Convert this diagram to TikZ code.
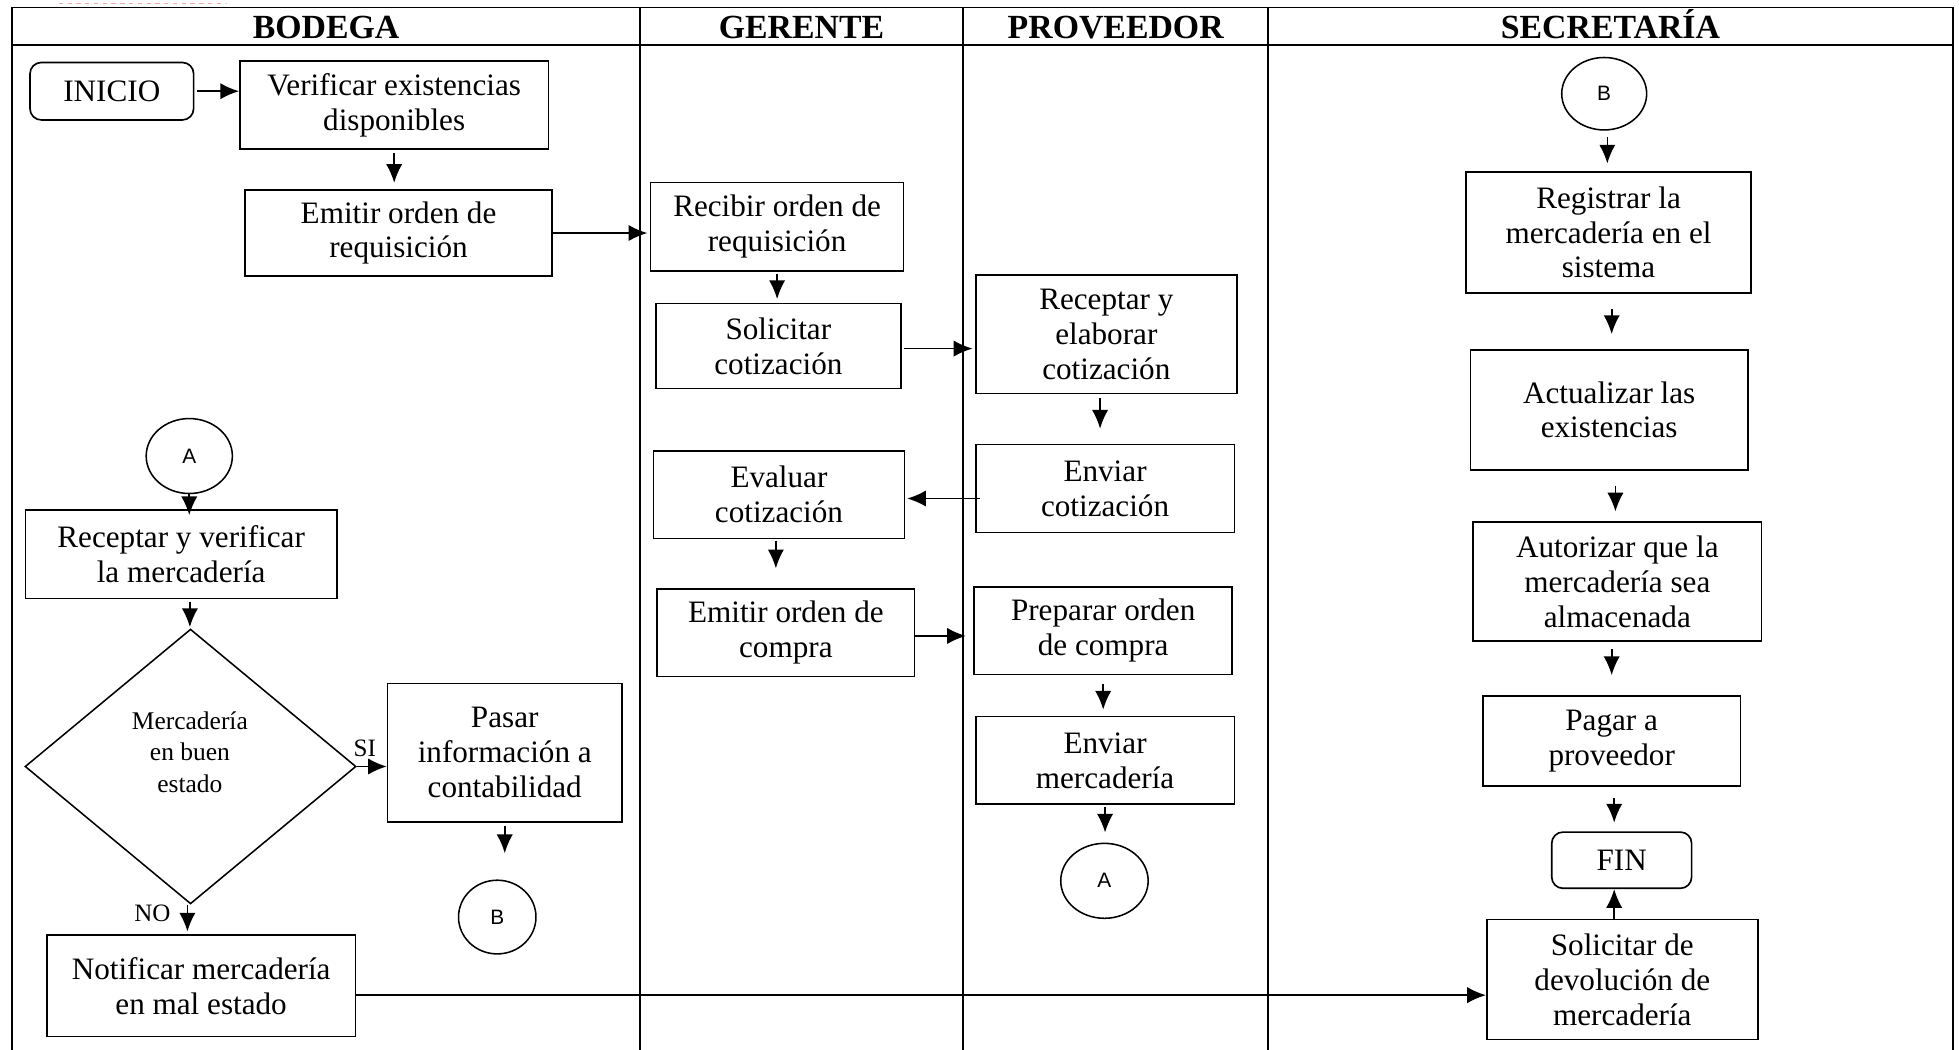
\documentclass[tikz,border=0pt]{standalone}
\usepackage{fontspec}
\setmainfont{Liberation Serif}
\newfontfamily\connfont{Liberation Sans}
\usetikzlibrary{shapes.geometric,arrows.meta}
\begin{document}
\begin{tikzpicture}[x=0.02cm,y=-0.02cm,
  every node/.style={font=\rmfamily\fontsize{14.2}{15.9}\selectfont, inner sep=0pt},
  lane/.style={line width=0.8pt},
  hdr/.style={anchor=base, font=\rmfamily\bfseries\fontsize{15.4}{18}\selectfont},
  box/.style={draw, line width=0.75pt, align=center},
  term/.style={box, rounded corners=0.18cm},
  conn/.style={draw, ellipse, line width=0.7pt, font=\connfont\fontsize{9.5}{11}\selectfont},
  decision/.style={draw, diamond, line width=0.7pt},
  small/.style={font=\rmfamily\fontsize{11.4}{13}\selectfont},
  arr/.style={line width=0.75pt, -{Latex[length=0.3cm,width=0.26cm]}}]

\useasboundingbox (0,0) rectangle (1568,840);

% swimlane frame
\draw[lane] (9.5,845) -- (9.5,6) -- (1563,6) -- (1563,845);
\draw[lane] (9.5,36) -- (1563,36);
\draw[lane] (512,6) -- (512,845);
\draw[lane] (771,6) -- (771,845);
\draw[lane] (1015,6) -- (1015,845);
\draw[line width=0.4pt, color={rgb,255:red,245;green,170;blue,170}, dash pattern=on 2pt off 2pt] (47,2.5) -- (182,2.5);

\node[hdr] (hbod) at (261,30.5) {BODEGA};
\node[hdr] (hger) at (641.5,30.5) {GERENTE};
\node[hdr] (hpro) at (893,30.5) {PROVEEDOR};
\node[hdr] (hsec) at (1289,30.5) {SECRETARÍA};

% BODEGA
\node[term, minimum width=2.62cm, minimum height=0.92cm] (inicio) at (89.5,73) {INICIO};
\node[box, minimum width=4.94cm, minimum height=1.40cm] (verif) at (315.5,84) {Verificar existencias\\disponibles};
\node[box, minimum width=4.92cm, minimum height=1.38cm] (emitreq) at (319,186.5) {Emitir orden de\\requisición};
\node[conn, minimum width=1.38cm, minimum height=1.20cm] (ca1) at (151.5,365) {A};
\node[box, minimum width=4.98cm, minimum height=1.42cm] (recv) at (145,443.5) {Receptar y verificar\\la mercadería};
\node[decision, minimum width=5.3cm, minimum height=4.4cm] (dec) at (152.5,613.5) {};
\node[align=center, font=\rmfamily\fontsize{11.6}{14.2}\selectfont] (dectext) at (152,602) {Mercadería\\en buen\\estado};
\node[box, minimum width=3.75cm, minimum height=2.22cm] (pasar) at (404,602.5) {Pasar\\información a\\contabilidad};
\node[conn, minimum width=1.24cm, minimum height=1.18cm] (cb1) at (398,734) {B};
\node[box, minimum width=4.94cm, minimum height=1.63cm] (notif) at (161,789) {Notificar mercadería\\en mal estado};
\node[small] (lsi) at (292,599) {SI};
\node[small] (lno) at (122,731) {NO};

% GERENTE
\node[box, minimum width=4.05cm, minimum height=1.42cm] (recibir) at (622,181.5) {Recibir orden de\\requisición};
\node[box, minimum width=3.92cm, minimum height=1.36cm] (solic) at (623,277) {Solicitar\\cotización};
\node[box, minimum width=4.02cm, minimum height=1.40cm] (evaluar) at (623.5,396) {Evaluar\\cotización};
\node[box, minimum width=4.12cm, minimum height=1.40cm] (emitcomp) at (629,506.5) {Emitir orden de\\compra};

% PROVEEDOR
\node[box, minimum width=4.18cm, minimum height=1.90cm] (recepelab) at (885.5,267.5) {Receptar y\\elaborar\\cotización};
\node[box, minimum width=4.14cm, minimum height=1.41cm] (enviarcot) at (884.5,391) {Enviar\\cotización};
\node[box, minimum width=4.13cm, minimum height=1.40cm] (preparar) at (883,505) {Preparar orden\\de compra};
\node[box, minimum width=4.14cm, minimum height=1.40cm] (enviarmerc) at (884.5,608.6) {Enviar\\mercadería};
\node[conn, minimum width=1.40cm, minimum height=1.20cm] (ca2) at (884,705) {A};

% SECRETARIA
\node[conn, minimum width=1.36cm, minimum height=1.16cm] (cb2) at (1284,75) {B};
\node[box, minimum width=4.56cm, minimum height=1.94cm] (registrar) at (1287.5,186) {Registrar la\\mercadería en el\\sistema};
\node[box, minimum width=4.44cm, minimum height=1.92cm] (actualizar) at (1288,328) {Actualizar las\\existencias};
\node[box, minimum width=4.62cm, minimum height=1.90cm] (autorizar) at (1294.5,465.5) {Autorizar que la\\mercadería sea\\almacenada};
\node[box, minimum width=4.12cm, minimum height=1.44cm] (pagar) at (1290,593) {Pagar a\\proveedor};
\node[term, minimum width=2.24cm, minimum height=0.90cm] (fin) at (1298,688.5) {FIN};
\node[box, minimum width=4.34cm, minimum height=1.92cm] (solicdev) at (1298.5,784) {Solicitar de\\devolución de\\mercadería};

% connectors
\draw[arr, shorten <=0.04cm] (inicio.east) -- (inicio.east -| verif.west);
\draw[arr, shorten <=0.06cm, shorten >=0.1cm] (verif.south) -- (verif.south |- emitreq.north);
\draw[arr, shorten >=0.04cm] (emitreq.east) -- (emitreq.east -| recibir.west);
\draw[arr, shorten <=0.04cm, shorten >=0.06cm] (recibir.south) -- (recibir.south |- solic.north);
\draw[arr, shorten <=0.04cm, shorten >=0.04cm] ([yshift=-0.04cm]solic.east) -- ([yshift=-0.04cm]solic.east -| recepelab.west);
\draw[arr, shorten <=0.06cm, shorten >=0.24cm] ([xshift=-0.1cm]recepelab.south) -- ([xshift=-0.1cm]recepelab.south |- enviarcot.north);
\draw[arr, shorten <=-0.08cm, shorten >=0.03cm] ([yshift=-0.16cm]enviarcot.west) -- ([yshift=-0.16cm]enviarcot.west -| evaluar.east);
\draw[arr, shorten <=0.02cm, shorten >=0.32cm] ([xshift=-0.05cm]evaluar.south) -- ([xshift=-0.05cm]evaluar.south |- emitcomp.north);
\draw[arr, shorten >=0.12cm] ([yshift=-0.05cm]emitcomp.east) -- ([yshift=-0.05cm]emitcomp.east -| preparar.west);
\draw[arr, shorten <=0.14cm, shorten >=0.1cm] (preparar.south) -- (preparar.south |- enviarmerc.north);
\draw[arr, shorten <=0.04cm, shorten >=0.16cm] (enviarmerc.south) -- (enviarmerc.south |- ca2.north);
\draw[arr, shorten >=-0.1cm] (ca1.south) -- (ca1.south |- recv.north);
\draw[arr, shorten <=0.04cm, shorten >=0.02cm] ([xshift=0.14cm]recv.south) -- ([xshift=0.14cm]recv.south |- dec.north);
\draw[arr] (dec.east) -- (dec.east -| pasar.west);
\draw[arr, shorten <=0.05cm, shorten >=0.42cm] (pasar.south) -- (pasar.south |- cb1.north);
\draw[arr, shorten >=0.04cm] ([xshift=-0.05cm]dec.south) -- ([xshift=-0.05cm]dec.south |- notif.north);
\draw[arr] ([yshift=-0.15cm]notif.east) -- ([yshift=-0.15cm]notif.east -| solicdev.west);
\draw[arr, shorten <=0.1cm, shorten >=0.12cm] ([xshift=0.05cm]cb2.south) -- ([xshift=0.05cm]cb2.south |- registrar.north);
\draw[arr, shorten <=0.24cm, shorten >=0.24cm] ([xshift=0.05cm]registrar.south) -- ([xshift=0.05cm]registrar.south |- actualizar.north);
\draw[arr, shorten <=0.24cm, shorten >=0.16cm] ([xshift=0.1cm]actualizar.south) -- ([xshift=0.1cm]actualizar.south |- autorizar.north);
\draw[arr, shorten <=0.12cm, shorten >=0.32cm] ([xshift=-0.09cm]autorizar.south) -- ([xshift=-0.09cm]autorizar.south |- pagar.north);
\draw[arr, shorten <=0.18cm, shorten >=0.14cm] ([xshift=0.04cm]pagar.south) -- ([xshift=0.04cm]pagar.south |- fin.north);
\draw[arr] ([xshift=-0.13cm]solicdev.north) -- ([xshift=-0.13cm]solicdev.north |- fin.south);
\end{tikzpicture}
\end{document}
